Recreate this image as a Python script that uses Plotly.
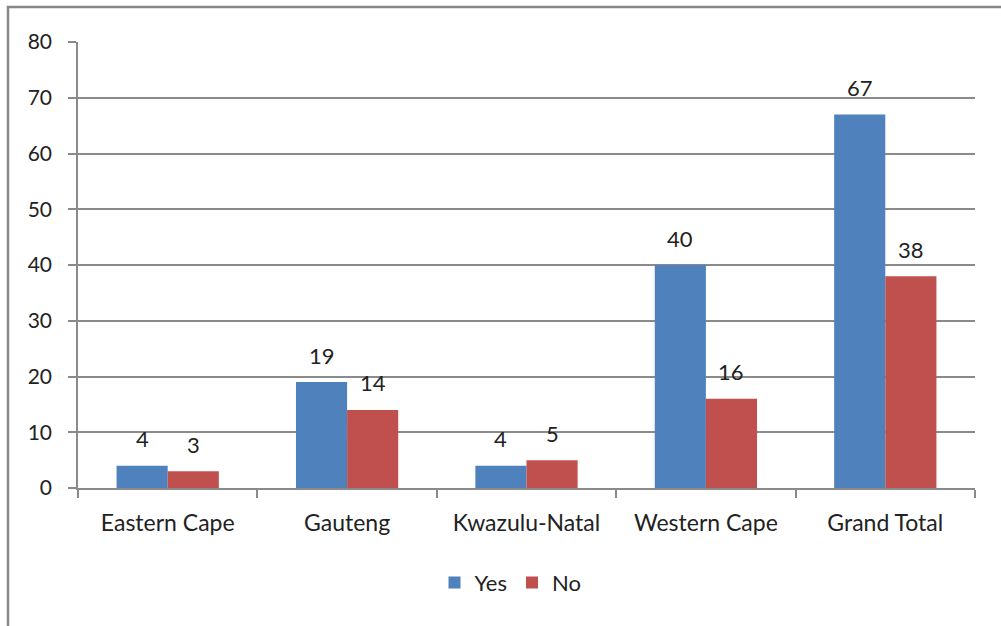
import plotly.graph_objects as go

categories = ["Eastern Cape", "Gauteng", "Kwazulu-Natal", "Western Cape", "Grand Total"]
yes_values = [4, 19, 4, 40, 67]
no_values = [3, 14, 5, 16, 38]
y_ticks = [0, 10, 20, 30, 40, 50, 60, 70, 80]

W, H = 1001, 626
ml, mr, mt, mb = 78, 26, 42, 138
pw, ph = W - ml - mr, H - mt - mb

FONT = "Lato"
TXT = "#222222"
GRID = "#8a8a8a"

fig = go.Figure()
fig.add_trace(go.Bar(name="Yes", x=categories, y=yes_values, marker=dict(color="#4F81BD", line=dict(width=0))))
fig.add_trace(go.Bar(name="No", x=categories, y=no_values, marker=dict(color="#C0504D", line=dict(width=0))))

cat_w = pw / len(categories)
bargap = 0.43
bar_w = cat_w * (1 - bargap) / 2
for vals, sign in ((yes_values, -1), (no_values, 1)):
    for c, v in zip(categories, vals):
        fig.add_annotation(x=c, y=v, text=str(v), showarrow=False, xshift=sign * bar_w / 2,
                           yshift=27, yanchor="middle", font=dict(family=FONT, size=22, color=TXT))

# outer frame
fig.add_shape(type="rect", xref="paper", yref="paper",
              x0=(8 - ml) / pw, x1=2, y0=-2, y1=(H - mb - 7) / ph,
              line=dict(color="#888888", width=2.5), fillcolor="rgba(0,0,0,0)", layer="below")

fig.update_layout(
    width=W, height=H, margin=dict(l=ml, r=mr, t=mt, b=mb),
    paper_bgcolor="white", plot_bgcolor="white",
    barmode="group", bargap=bargap, bargroupgap=0,
    font=dict(family=FONT, size=22, color=TXT),
    showlegend=True,
    legend=dict(orientation="h", xref="container", yref="container", x=0.51, y=0.069,
                xanchor="center", yanchor="middle", font=dict(family=FONT, size=22, color=TXT),
                itemwidth=30, tracegroupgap=0),
    xaxis=dict(showline=True, linecolor=GRID, linewidth=1.5, ticks="outside", tickson="boundaries",
               ticklen=8, tickcolor=GRID, tickwidth=1.5, showgrid=False, ticklabelstandoff=14,
               tickfont=dict(family=FONT, size=23, color=TXT)),
    yaxis=dict(range=[0, 80], tickvals=y_ticks, showline=True, linecolor=GRID, linewidth=1.5,
               ticks="outside", ticklen=8, tickcolor=GRID, tickwidth=1.5, ticklabelstandoff=12,
               showgrid=True, gridcolor=GRID, gridwidth=1.5, zeroline=False,
               tickfont=dict(family=FONT, size=21, color=TXT)),
)

fig.write_html("out.html")
